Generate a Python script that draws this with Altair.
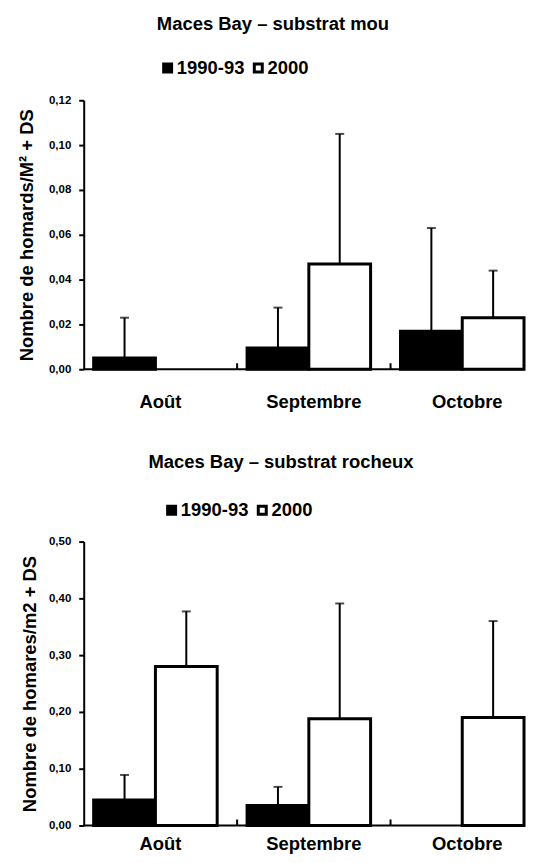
import altair as alt
import pandas as pd

months = ["Août", "Septembre", "Octobre"]
series = ["1990-93", "2000"]

# Maces Bay - substrat mou
mou_1990 = [0.005, 0.0095, 0.017]
mou_2000 = [0.0, 0.047, 0.023]
mou_sd_1990 = [0.018, 0.018, 0.046]
mou_sd_2000 = [0.0, 0.058, 0.021]

# Maces Bay - substrat rocheux
roc_1990 = [0.045, 0.035, 0.0]
roc_2000 = [0.28, 0.188, 0.19]
roc_sd_1990 = [0.044, 0.033, 0.0]
roc_sd_2000 = [0.097, 0.203, 0.17]

FONT = "Liberation Sans"
W = 442


def make_df(v1, v2, s1, s2):
    rows = []
    for i, m in enumerate(months):
        rows.append({"month": m, "series": series[0], "value": v1[i], "sd": s1[i], "top": v1[i] + s1[i]})
        rows.append({"month": m, "series": series[1], "value": v2[i], "sd": s2[i], "top": v2[i] + s2[i]})
    return pd.DataFrame(rows)


def panel(df, title, ytitle, ymax, step, height, tdx, toff, lx, ly, lab_dy, tpad):
    n = int(round(ymax / step))
    ticks = [round(i * step, 2) for i in range(n + 1)]
    xscale = alt.Scale(domain=months, paddingInner=0.13, paddingOuter=0, align=0)
    xoff = alt.Scale(domain=series, paddingInner=0, paddingOuter=0.0806, align=1)
    yscale = alt.Scale(domain=[0, ymax], nice=False, zero=True)

    yaxis = alt.Axis(title=ytitle, values=ticks,
                     labelExpr="replace(format(datum.value, '.2f'), '.', ',')",
                     domainColor="black", domainWidth=2, tickColor="black", tickWidth=2,
                     tickSize=5, labelFontSize=11.5, labelFontWeight="bold", labelColor="black",
                     labelFont=FONT, labelPadding=8, titleFontSize=18.5, titleFontWeight="bold",
                     titleColor="black", titleFont=FONT, titlePadding=tpad, grid=False)

    x = alt.X("month:N", scale=xscale, sort=months, axis=None)
    xo = alt.XOffset("series:N", scale=xoff, sort=series)

    base = alt.Chart(df)
    bars = base.transform_filter("datum.value > 0").mark_bar(
        stroke="black", strokeWidth=3, strokeJoin="miter"
    ).encode(
        x=x, xOffset=xo,
        y=alt.Y("value:Q", scale=yscale, axis=yaxis),
        fill=alt.Fill("series:N", sort=series,
                      scale=alt.Scale(domain=series, range=["black", "white"]),
                      legend=alt.Legend(title=None, orient="none", legendX=lx, legendY=ly,
                                        direction="horizontal", symbolType="square",
                                        symbolSize=64, symbolStrokeWidth=3,
                                        symbolStrokeColor="black", labelFontSize=18.5,
                                        labelFontWeight="bold", labelColor="black",
                                        labelFont=FONT, labelOffset=0, columnPadding=3)),
    )
    err = base.transform_filter("datum.sd > 0").mark_rule(strokeWidth=2, color="black").encode(
        x=x, xOffset=xo, y=alt.Y("value:Q", scale=yscale), y2="top:Q"
    )
    caps = base.transform_filter("datum.sd > 0").mark_tick(
        size=9, thickness=2, color="black", orient="horizontal"
    ).encode(x=x, xOffset=xo, y=alt.Y("top:Q", scale=yscale))

    tick_df = pd.DataFrame({"month": months})
    axis_line = alt.Chart(tick_df).transform_filter("datum.month == 'Août'").mark_rule(
        color="black", strokeWidth=2
    ).encode(y=alt.datum(0), x=alt.value(0), x2=alt.value(W))
    cat_ticks = alt.Chart(tick_df).transform_filter("datum.month != 'Août'").mark_rule(
        color="black", strokeWidth=2
    ).encode(x=alt.X("month:N", bandPosition=0, scale=xscale, sort=months, axis=None),
             y=alt.datum(0), y2=alt.value(height - 6))
    labels = alt.Chart(tick_df).mark_text(
        font=FONT, fontSize=18.5, fontWeight="bold", color="black", baseline="top", align="center"
    ).encode(x=alt.X("month:N", bandPosition=0.575, scale=xscale, sort=months, axis=None),
             y=alt.value(height + lab_dy), text="month:N")

    return alt.layer(bars, err, caps, axis_line, cat_ticks, labels).properties(
        width=W, height=height,
        title=alt.TitleParams(title, fontSize=18.5, font=FONT, fontWeight="bold", color="black",
                              anchor="middle", dx=tdx, offset=toff),
    )


top = panel(make_df(mou_1990, mou_2000, mou_sd_1990, mou_sd_2000),
            "Maces Bay \u2013 substrat mou", "Nombre de homards/M\u00b2 + DS",
            0.12, 0.02, 270, -31, 25, 75, -42, 24, 12)
bottom = panel(make_df(roc_1990, roc_2000, roc_sd_1990, roc_sd_2000),
               "Maces Bay \u2013 substrat rocheux", "Nombre de homares/m2 + DS",
               0.5, 0.1, 285, -23, 29, 79, -41, 10, 9)

chart = alt.vconcat(top, bottom, spacing=41).resolve_scale(
    fill="independent"
).resolve_legend(fill="independent").properties(
    padding={"left": 9, "top": 5, "right": 0, "bottom": 0}
).configure(font=FONT).configure_view(strokeWidth=0, stroke="transparent")

chart.save("out.html", embed_options={"renderer": "svg", "actions": False})
